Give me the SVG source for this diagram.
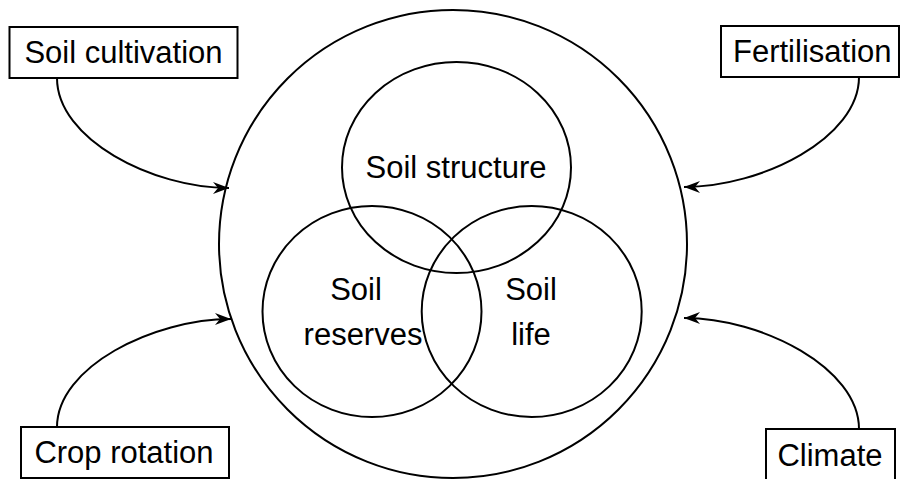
<svg xmlns="http://www.w3.org/2000/svg" width="900" height="479" viewBox="0 0 900 479">
<style>
.ln{fill:none;stroke:#000;stroke-width:2}
.box{fill:#fff;stroke:#000;stroke-width:2}
.t{font-family:"Liberation Sans",Arial,sans-serif;font-size:31px;fill:#000}
.m{text-anchor:middle}
</style>
<defs>
<marker id="ah" markerUnits="userSpaceOnUse" markerWidth="20" markerHeight="16" viewBox="-17 -8 19 16" refX="0" refY="0" orient="auto">
<path d="M0,0 L-16,-6 L-11,0 L-16,6 Z" fill="#000"/>
</marker>
</defs>
<rect width="900" height="479" fill="#fff"/>
<g id="soil">
<circle class="ln" cx="453" cy="244" r="234"/>
</g>
<g id="soil-structure">
<ellipse class="ln" cx="456.5" cy="167.5" rx="114.5" ry="105.5"/>
<text class="t m" x="456" y="178">Soil structure</text>
</g>
<g id="soil-reserves">
<ellipse class="ln" cx="372" cy="311.5" rx="109.5" ry="105.5"/>
<text class="t m" x="356" y="300">Soil</text>
<text class="t m" x="363" y="345">reserves</text>
</g>
<g id="soil-life">
<ellipse class="ln" cx="531.7" cy="311.5" rx="110" ry="105.5"/>
<text class="t m" x="531" y="300">Soil</text>
<text class="t m" x="531" y="345">life</text>
</g>
<g id="soil-cultivation">
<rect class="box" x="9.5" y="27" width="228" height="51"/>
<text class="t m" x="123.5" y="63">Soil cultivation</text>
</g>
<g id="fertilisation">
<rect class="box" x="721" y="26" width="178" height="51"/>
<text class="t" x="733" y="62">Fertilisation</text>
</g>
<g id="crop-rotation">
<rect class="box" x="21" y="427" width="208" height="51"/>
<text class="t m" x="124" y="463">Crop rotation</text>
</g>
<g id="climate">
<rect class="box" x="766" y="429" width="129" height="55"/>
<text class="t m" x="830" y="466">Climate</text>
</g>
<g id="connectors">
<path class="ln" d="M57,78 C57,139 152,188 229,188" marker-end="url(#ah)"/>
<path class="ln" d="M859,77 C859,138 762,187 684,187" marker-end="url(#ah)"/>
<path class="ln" d="M57,427 C57,367 153,319 231,319" marker-end="url(#ah)"/>
<path class="ln" d="M859,429 C859,368 762,318 684,318" marker-end="url(#ah)"/>
</g>
</svg>
